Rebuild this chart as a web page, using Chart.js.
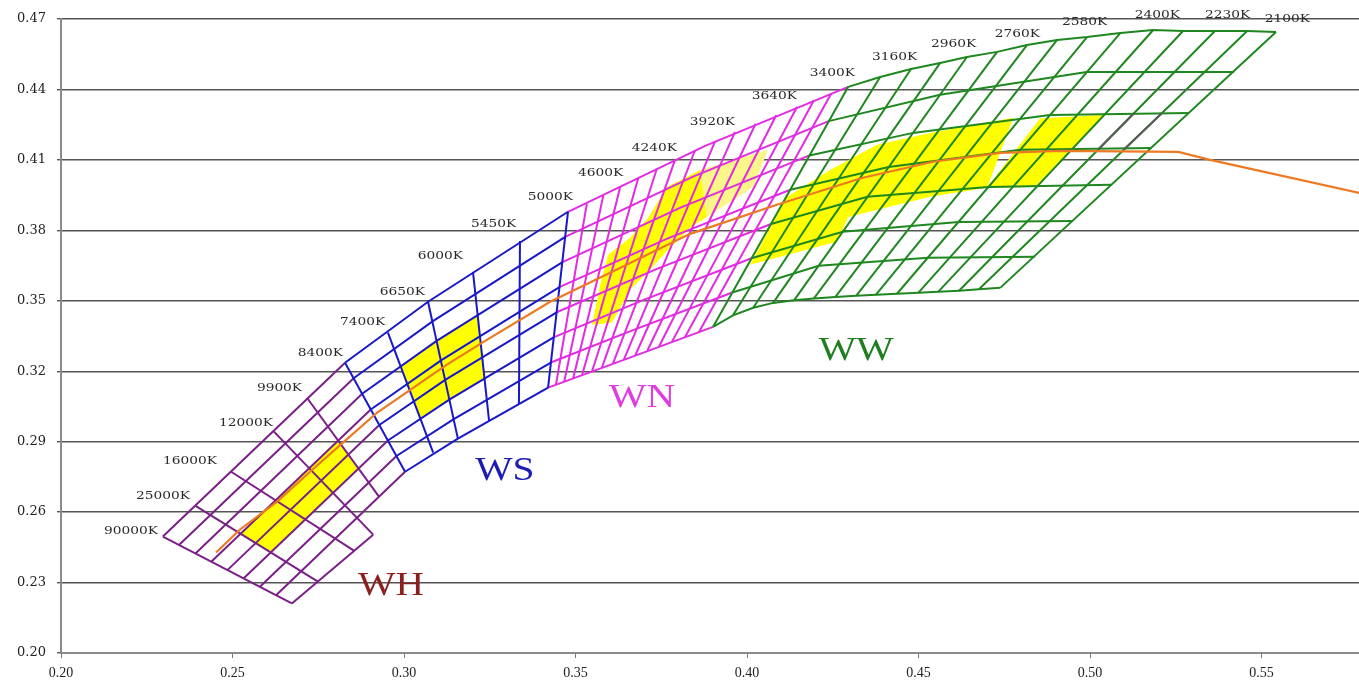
<!DOCTYPE html>
<html>
<head>
<meta charset="utf-8">
<script src="https://cdn.jsdelivr.net/npm/chart.js@4.4.1/dist/chart.umd.min.js"></script>
<style>
  html, body { margin: 0; padding: 0; background: #ffffff; }
  #wrap { width: 1359px; height: 682px; }
  canvas { display: block; }
</style>
</head>
<body>
<div id="wrap"><canvas id="chart" width="1359" height="682"></canvas></div>
<script>
// ---- axis ticks ----
const xTicks = [0.20, 0.25, 0.30, 0.35, 0.40, 0.45, 0.50, 0.55];
const yTicks = [0.20, 0.23, 0.26, 0.29, 0.32, 0.35, 0.38, 0.41, 0.44, 0.47];

// ---- Planckian locus (x, y) ----
const locusX = [0.2452, 0.2522, 0.2630, 0.2726, 0.2822, 0.2921, 0.3125, 0.3227, 0.3426, 0.3601, 0.3834, 0.4087, 0.4335, 0.4542, 0.4738, 0.4913, 0.5257, 0.5350, 0.5800];
const locusY = [0.2428, 0.2526, 0.2645, 0.2772, 0.2896, 0.3023, 0.3228, 0.3321, 0.3496, 0.3619, 0.3785, 0.3909, 0.4023, 0.4092, 0.4130, 0.4138, 0.4134, 0.4100, 0.3954];

// ---- WH bins: isotherms [xTop, yTop, xEnd, yEnd] and Duv rows ----
const whIsotherms = [
  [0.2297, 0.2496, 0.2673, 0.2211], // 90000K
  [0.2391, 0.2628, 0.2749, 0.2304], // 25000K
  [0.2496, 0.2772, 0.2854, 0.2436], // 16000K
  [0.2618, 0.2947, 0.2910, 0.2504], // 12000K
  [0.2717, 0.3087, 0.2927, 0.2666]  // 9900K
];
const whRows = [
  [0.2297, 0.2496, 0.2828, 0.3236],
  [0.2344, 0.2460, 0.2853, 0.3170],
  [0.2392, 0.2424, 0.2878, 0.3104],
  [0.2438, 0.2389, 0.2903, 0.3037],
  [0.2485, 0.2353, 0.2928, 0.2971],
  [0.2532, 0.2317, 0.2953, 0.2905],
  [0.2580, 0.2282, 0.2978, 0.2839],
  [0.2627, 0.2246, 0.3003, 0.2772],
  [0.2673, 0.2211, 0.2910, 0.2504]
];

// ---- WS bins ----
const wsIsotherms = [
  [0.2828, 0.3236, 0.3003, 0.2772], // 8400K
  [0.2953, 0.3364, 0.3085, 0.2853], // 7400K
  [0.3070, 0.3496, 0.3157, 0.2913], // 6650K
  [0.3201, 0.3623, 0.3248, 0.2989], // 6000K
  [0.3338, 0.3755, 0.3335, 0.3062], // 5450K
  [0.3478, 0.3879, 0.3420, 0.3130]  // 5000K
];
const wsRows = [
  [0.2828, 0.3236, 0.3070, 0.3496, 0.3478, 0.3879],
  [0.2853, 0.3170, 0.3083, 0.3412, 0.3470, 0.3772],
  [0.2878, 0.3104, 0.3095, 0.3329, 0.3462, 0.3665],
  [0.2903, 0.3037, 0.3108, 0.3246, 0.3453, 0.3558],
  [0.2928, 0.2971, 0.3120, 0.3163, 0.3445, 0.3451],
  [0.2953, 0.2905, 0.3132, 0.3079, 0.3436, 0.3344],
  [0.2978, 0.2839, 0.3145, 0.2996, 0.3428, 0.3237],
  [0.3003, 0.2772, 0.3157, 0.2913, 0.3420, 0.3130]
];

// ---- WN bins ----
const wnIsotherms = [
  [0.3533, 0.3914, 0.3443, 0.3143],
  [0.3581, 0.3950, 0.3467, 0.3155],
  [0.3630, 0.3985, 0.3493, 0.3169], // 4600K
  [0.3683, 0.4023, 0.3519, 0.3183],
  [0.3737, 0.4062, 0.3548, 0.3199],
  [0.3790, 0.4100, 0.3577, 0.3215], // 4240K
  [0.3848, 0.4140, 0.3609, 0.3232],
  [0.3907, 0.4180, 0.3641, 0.3249],
  [0.3965, 0.4219, 0.3674, 0.3267], // 3920K
  [0.4025, 0.4254, 0.3709, 0.3286],
  [0.4085, 0.4290, 0.3743, 0.3304],
  [0.4146, 0.4326, 0.3781, 0.3325], // 3640K
  [0.4195, 0.4354, 0.3819, 0.3345],
  [0.4245, 0.4382, 0.3860, 0.3367]
];
const wnRows = [
  [0.3478, 0.3879, 0.3878, 0.4160, 0.4295, 0.4411],
  [0.3470, 0.3772, 0.3841, 0.4028, 0.4238, 0.4265],
  [0.3462, 0.3665, 0.3806, 0.3897, 0.4182, 0.4119],
  [0.3453, 0.3558, 0.3769, 0.3766, 0.4126, 0.3973],
  [0.3445, 0.3451, 0.3734, 0.3634, 0.4070, 0.3827],
  [0.3436, 0.3344, 0.3697, 0.3503, 0.4013, 0.3681],
  [0.3428, 0.3237, 0.3662, 0.3372, 0.3957, 0.3535],
  [0.3420, 0.3130, 0.3625, 0.3240, 0.3901, 0.3389]
];

// ---- WW bins ----
const wwIsotherms = [
  [0.4295, 0.4411, 0.3901, 0.3389], // 3400K
  [0.4388, 0.4453, 0.3959, 0.3438],
  [0.4478, 0.4487, 0.4018, 0.3470], // 3160K
  [0.4563, 0.4513, 0.4076, 0.3491],
  [0.4641, 0.4538, 0.4137, 0.3502], // 2960K
  [0.4729, 0.4560, 0.4195, 0.3510],
  [0.4816, 0.4589, 0.4257, 0.3516], // 2760K
  [0.4904, 0.4611, 0.4318, 0.3521],
  [0.4991, 0.4623, 0.4376, 0.3526], // 2580K
  [0.5088, 0.4640, 0.4437, 0.3530],
  [0.5184, 0.4653, 0.4499, 0.3534], // 2400K
  [0.5271, 0.4649, 0.4557, 0.3538],
  [0.5364, 0.4649, 0.4618, 0.3543], // 2230K
  [0.5458, 0.4649, 0.4676, 0.3549],
  [0.5542, 0.4645, 0.4738, 0.3555]  // 2100K
];
const wwRows = [
  [0.4295, 0.4411, 0.4388, 0.4453, 0.4478, 0.4487, 0.4563, 0.4513, 0.4641, 0.4538, 0.4729, 0.4560, 0.4816, 0.4589, 0.4904, 0.4611, 0.4991, 0.4623, 0.5088, 0.4640, 0.5184, 0.4653, 0.5271, 0.4649, 0.5364, 0.4649, 0.5458, 0.4649, 0.5542, 0.4645],
  [0.4238, 0.4265, 0.4563, 0.4377, 0.4990, 0.4474, 0.5420, 0.4474],
  [0.4182, 0.4119, 0.4484, 0.4215, 0.4883, 0.4291, 0.5289, 0.4300],
  [0.4126, 0.3973, 0.4413, 0.4070, 0.4796, 0.4143, 0.5178, 0.4151],
  [0.4070, 0.3827, 0.4351, 0.3943, 0.4704, 0.3985, 0.5061, 0.3994],
  [0.4013, 0.3681, 0.4279, 0.3794, 0.4617, 0.3836, 0.4950, 0.3840],
  [0.3957, 0.3535, 0.4209, 0.3649, 0.4527, 0.3683, 0.4840, 0.3687],
  [0.3901, 0.3389, 0.3959, 0.3438, 0.4018, 0.3470, 0.4076, 0.3491, 0.4137, 0.3502, 0.4195, 0.3510, 0.4257, 0.3516, 0.4318, 0.3521, 0.4376, 0.3526, 0.4437, 0.3530, 0.4499, 0.3534, 0.4557, 0.3538, 0.4618, 0.3543, 0.4676, 0.3549, 0.4738, 0.3555]
];
const wwGreySegments = [
  [0.5129, 0.4300, 0.5023, 0.4143],
  [0.5210, 0.4300, 0.5098, 0.4143]
];

// ---- highlighted bins (polygon outlines) ----
const whTarget = [0.2523, 0.2508, 0.2808, 0.2905, 0.2868, 0.2786, 0.2611, 0.2428];
const wsTarget = [0.2991, 0.3218, 0.3095, 0.3329, 0.3215, 0.3442, 0.3234, 0.3171, 0.3132, 0.3079, 0.3047, 0.2999];
const wnTarget = [0.3548, 0.3398, 0.3574, 0.3581, 0.3595, 0.3696, 0.3659, 0.3768, 0.3711, 0.3853, 0.3767, 0.3985, 0.3863, 0.4057, 0.3883, 0.3857, 0.3834, 0.3811, 0.3770, 0.3717, 0.3711, 0.3623, 0.3659, 0.3547, 0.3606, 0.3406];
const wnTargetLight = [0.3863, 0.4057, 0.4061, 0.4143, 0.4018, 0.3985, 0.3883, 0.3857];
const wwTargetA = [0.4009, 0.3653, 0.4117, 0.3943, 0.4242, 0.4057, 0.4379, 0.4164, 0.4534, 0.4215, 0.4776, 0.4279, 0.4700, 0.3981, 0.4534, 0.3943, 0.4295, 0.3857, 0.4262, 0.3751];
const wwTargetB = [0.4854, 0.4277, 0.5039, 0.4291, 0.4840, 0.3986, 0.4699, 0.3980];

// ---- CCT labels and their anchor points (right end of text) ----
const cctNames = ['90000K', '25000K', '16000K', '12000K', '9900K', '8400K', '7400K', '6650K', '6000K', '5450K', '5000K', '4600K', '4240K', '3920K', '3640K', '3400K', '3160K', '2960K', '2760K', '2580K', '2400K', '2230K', '2100K'];
const cctLabelX = [0.2283, 0.2376, 0.2455, 0.2618, 0.2703, 0.2822, 0.2945, 0.3061, 0.3172, 0.3327, 0.3493, 0.3639, 0.3796, 0.3965, 0.4146, 0.4315, 0.4496, 0.4668, 0.4854, 0.5050, 0.5262, 0.5467, 0.5641];
const cctLabelY = [0.2517, 0.2666, 0.2819, 0.2977, 0.3126, 0.3279, 0.3411, 0.3538, 0.3692, 0.3828, 0.3943, 0.4045, 0.4151, 0.4262, 0.4372, 0.4470, 0.4538, 0.4594, 0.4636, 0.4687, 0.4717, 0.4717, 0.4700];

// ---- group names (centre x, baseline y) ----
const groupNames = ['WH', 'WS', 'WN', 'WW'];
const groupLabelX = [0.2962, 0.3294, 0.3694, 0.4318];
const groupLabelY = [0.2249, 0.2738, 0.3049, 0.3249];

// ---- styling ----
const C_WH = '#7a1f87', C_WS = '#1818c8', C_WN = '#e22be2', C_WW = '#1f871f';
const C_LOCUS = '#ec7a22', C_YELLOW = '#ffff00', C_PALE = '#fbf68a';
const groupColors = ['#8a2020', '#1c1cb4', '#e03ce0', '#1f7f1f'];

const toPts = a => { const p = []; for (let i = 0; i < a.length; i += 2) p.push({ x: a[i], y: a[i + 1] }); return p; };
const line = (pts, color, width) => ({ data: pts, borderColor: color, borderWidth: width, pointRadius: 0, pointHoverRadius: 0, fill: false, tension: 0 });
const poly = (pts, color) => ({ data: pts, borderColor: 'rgba(0,0,0,0)', borderWidth: 0, backgroundColor: color, pointRadius: 0, pointHoverRadius: 0, fill: 'shape', tension: 0 });

const datasets = [];
// earlier entries are painted on top
datasets.push(line(locusX.map((x, i) => ({ x, y: locusY[i] })), C_LOCUS, 2.2));
wwGreySegments.forEach(s => datasets.push(line(toPts(s), '#5a5a5a', 2)));
wsIsotherms.forEach(s => datasets.push(line(toPts(s), C_WS, 2)));
wsRows.forEach(s => datasets.push(line(toPts(s), C_WS, 2)));
wwIsotherms.forEach(s => datasets.push(line(toPts(s), C_WW, 2)));
wwRows.forEach(s => datasets.push(line(toPts(s), C_WW, 2)));
wnIsotherms.forEach(s => datasets.push(line(toPts(s), C_WN, 2)));
wnRows.forEach(s => datasets.push(line(toPts(s), C_WN, 2)));
whIsotherms.forEach(s => datasets.push(line(toPts(s), C_WH, 2)));
whRows.forEach(s => datasets.push(line(toPts(s), C_WH, 2)));
[whTarget, wsTarget, wnTarget, wwTargetA, wwTargetB].forEach(s => datasets.push(poly(toPts(s), C_YELLOW)));
datasets.push(poly(toPts(wnTargetLight), C_PALE));

const labelPlugin = {
  id: 'binLabels',
  afterDatasetsDraw(chart) {
    const { ctx, scales: { x, y } } = chart;
    ctx.save();
    ctx.fillStyle = '#2b2b2b';
    ctx.font = "11px 'DejaVu Serif'";
    ctx.textAlign = 'right';
    ctx.textBaseline = 'middle';
    cctNames.forEach((t, i) => {
      ctx.save();
      ctx.translate(x.getPixelForValue(cctLabelX[i]), y.getPixelForValue(cctLabelY[i]));
      ctx.scale(1.25, 1);
      ctx.fillText(t, 0, 0);
      ctx.restore();
    });
    ctx.font = "33px 'Liberation Serif'";
    ctx.textAlign = 'center';
    ctx.textBaseline = 'alphabetic';
    groupNames.forEach((t, i) => {
      ctx.save();
      ctx.fillStyle = groupColors[i];
      ctx.translate(x.getPixelForValue(groupLabelX[i]), y.getPixelForValue(groupLabelY[i]));
      ctx.scale(1.2, 1);
      ctx.fillText(t, 0, 0);
      ctx.restore();
    });
    ctx.restore();
  }
};

new Chart(document.getElementById('chart'), {
  type: 'line',
  data: { datasets },
  options: {
    responsive: false,
    animation: false,
    devicePixelRatio: 1,
    layout: { padding: { top: 19, right: 0, left: 0, bottom: 0 } },
    plugins: { legend: { display: false }, tooltip: { enabled: false } },
    events: [],
    scales: {
      x: {
        type: 'linear', min: 0.2, max: 0.5784,
        afterBuildTicks: s => { s.ticks = xTicks.map(v => ({ value: v })); },
        afterFit: s => { s.height = 29; },
        grid: { drawOnChartArea: false, drawTicks: true, tickLength: 5, color: '#777', lineWidth: 1 },
        border: { color: '#8a8a8a', width: 2 },
        ticks: { font: { family: 'Liberation Serif', size: 14 }, color: '#222', padding: 7, maxRotation: 0, autoSkip: false, callback: v => v.toFixed(2) }
      },
      y: {
        type: 'linear', min: 0.2, max: 0.47,
        afterBuildTicks: s => { s.ticks = yTicks.map(v => ({ value: v })); },
        afterFit: s => { s.width = 61; },
        grid: { color: '#555', lineWidth: 1.4, drawTicks: true, tickLength: 4 },
        border: { color: '#8a8a8a', width: 2 },
        ticks: { font: { family: 'DejaVu Serif', size: 13 }, color: '#222', padding: 11, autoSkip: false, callback: v => v.toFixed(2) }
      }
    }
  },
  plugins: [labelPlugin]
});
</script>
</body>
</html>
